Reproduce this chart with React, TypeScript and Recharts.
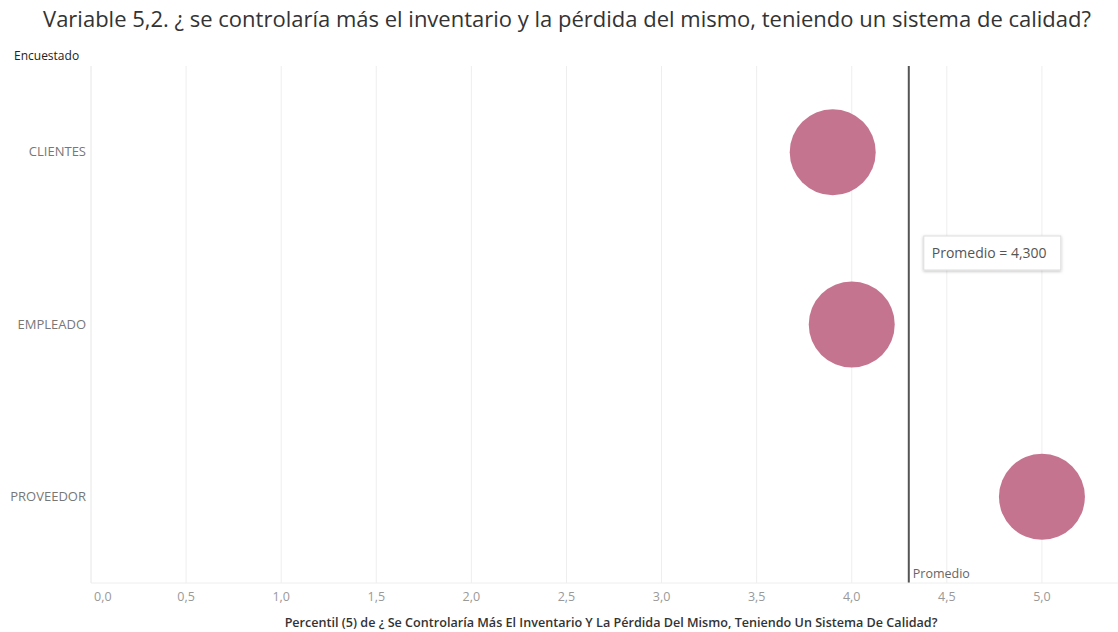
import React from "react";
import {
  ScatterChart,
  Scatter,
  XAxis,
  YAxis,
  CartesianGrid,
  ReferenceLine,
} from "recharts";

const encuestados = ["CLIENTES", "EMPLEADO", "PROVEEDOR"];
const percentil = [3.9, 4.0, 5.0];
const xTicks = [0, 0.5, 1, 1.5, 2, 2.5, 3, 3.5, 4, 4.5, 5];

const promedio = percentil.reduce((a, b) => a + b, 0) / percentil.length;

const data = encuestados.map((e, i) => ({ encuestado: e, valor: percentil[i] }));

const FONT = "'Open Sans', 'Noto Sans', sans-serif";
const fmt = (v: number, d = 1) => v.toFixed(d).replace(".", ",");

const XTick = (props: any) => {
  const { x, y, payload, index } = props;
  return (
    <text
      x={index === 0 ? x + 3 : x}
      y={y + 10}
      textAnchor={index === 0 ? "start" : "middle"}
      fill="#999"
      fontSize={12.5}
      fontFamily={FONT}
    >
      {fmt(payload.value)}
    </text>
  );
};

const YTick = (props: any) => {
  const { x, y, payload } = props;
  return (
    <text x={x + 3} y={y + 4} textAnchor="end" fill="#777" fontSize={13} fontFamily={FONT}>
      {payload.value}
    </text>
  );
};

const PromedioLabel = (props: any) => {
  const { viewBox } = props;
  const x = viewBox.x;
  const bottom = viewBox.y + viewBox.height;
  return (
    <g>
      <text x={x + 4} y={bottom - 5} fill="#666" fontSize={12.5} fontFamily={FONT}>
        Promedio
      </text>
      <defs>
        <filter id="sombra" x="-20%" y="-30%" width="140%" height="160%">
          <feDropShadow dx="0" dy="1" stdDeviation="1.5" floodColor="#000" floodOpacity="0.25" />
        </filter>
      </defs>
      <rect x={x + 15} y={viewBox.y + 170} width={137} height={34} fill="#fff" stroke="#ddd" filter="url(#sombra)" />
      <text x={x + 23} y={viewBox.y + 192} fill="#555" fontSize={14} fontFamily={FONT}>
        {`Promedio = ${fmt(promedio, 3)}`}
      </text>
    </g>
  );
};

export default function App() {
  return (
    <div style={{ position: "absolute", left: 0, top: 0, width: 1118, height: 632, background: "#fff", fontFamily: FONT }}>
      <div style={{ position: "absolute", top: 3, left: 0, width: 1134, textAlign: "center", fontSize: 22, color: "#333" }}>
        Variable 5,2. ¿ se controlaría más el inventario y la pérdida del mismo, teniendo un sistema de calidad?
      </div>
      <div style={{ position: "absolute", top: 47, left: 14, fontSize: 12, color: "#222" }}>Encuestado</div>
      <ScatterChart width={1118} height={632} margin={{ top: 66, right: 0, bottom: 19, left: 0 }}>
        <CartesianGrid horizontal={false} stroke="#eeeeee" verticalValues={xTicks} />
        <XAxis
          type="number"
          dataKey="valor"
          domain={[0, 5.4]}
          ticks={xTicks}
          height={30}
          tick={<XTick />}
          tickLine={false}
          axisLine={{ stroke: "#eeeeee" }}
          allowDataOverflow
        />
        <YAxis
          type="category"
          dataKey="encuestado"
          width={91}
          reversed
          tick={<YTick />}
          tickLine={false}
          axisLine={{ stroke: "#eeeeee" }}
          allowDuplicatedCategory={false}
        />
        <ReferenceLine x={promedio} stroke="#555" strokeWidth={2} label={<PromedioLabel />} />
        <Scatter
          data={data}
          isAnimationActive={false}
          shape={(p: any) => <circle cx={p.cx} cy={p.cy} r={43} fill="#c5748f" />}
        />
      </ScatterChart>
      <div style={{ position: "absolute", top: 614, left: 91, width: 1040, textAlign: "center", fontSize: 12.6, color: "#333", fontWeight: 600 }}>
        Percentil (5) de ¿ Se Controlaría Más El Inventario Y La Pérdida Del Mismo, Teniendo Un Sistema De Calidad?
      </div>
    </div>
  );
}
